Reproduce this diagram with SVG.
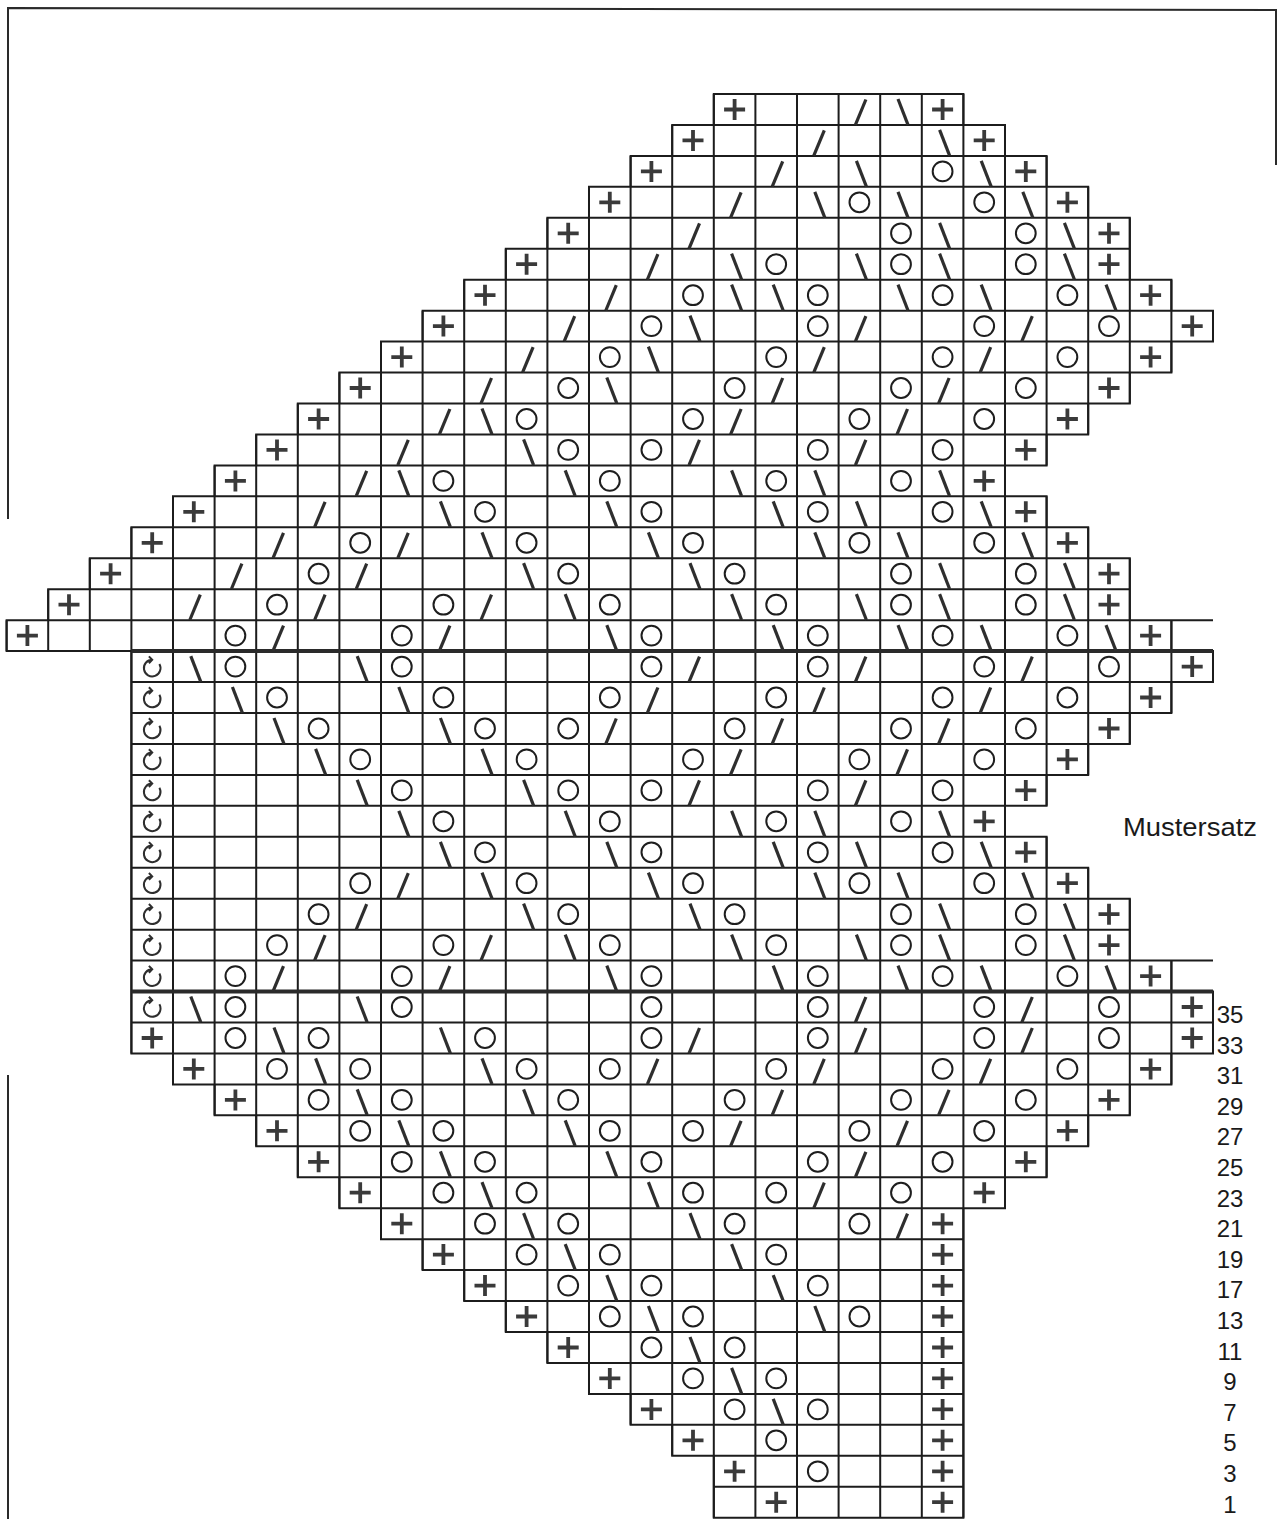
<svg xmlns="http://www.w3.org/2000/svg" width="1283" height="1519" viewBox="0 0 1283 1519">
<style>
.bg{fill:#fff}
.g{fill:none;stroke:#1c1c1c;stroke-width:2;vector-effect:non-scaling-stroke}
.thick{fill:none;stroke:#2a2a2a;stroke-width:4;vector-effect:non-scaling-stroke}
.fr{fill:none;stroke:#2a2a2a;stroke-width:2}
.sym{fill:none;stroke:#2e2e2e;stroke-linecap:butt}
.lbl{font-family:'Liberation Sans',Arial,sans-serif;font-size:24px;fill:#1a1a1a}
</style>
<defs>
<path id="p" class="sym" d="M-10.5 0H10.5M0-10.5V10.5" stroke-width="3.8" style="stroke:#3a3a3a"/>
<circle id="o" r="9.9" fill="none" stroke="#1e1e1e" stroke-width="2"/>
<path id="f" class="sym" d="M-4 15.3L6.5-10" stroke-width="3.2"/>
<path id="b" class="sym" d="M-3-10.5L7 15.3" stroke-width="3.2"/>
<path id="t" class="sym" d="M7.19-2.65A8.3 8.3 0 1 1 0-6.8M-3.3-10.2L0-6.8L-3.3-3.4" stroke-width="2" stroke-linejoin="miter"/>
</defs>
<rect class="bg" x="0" y="0" width="1283" height="1519"/>
<g id="frame">
<path class="fr" d="M8 519V8L1276 10V165M8 1075V1519"/>
</g>
<g id="grid" transform="matrix(41.6,0,0,30.95,6.6,94)">
<path class="g" d="M17 0h6v1h-6zM16 1h8v1h-8zM15 2h10v1h-10zM14 3h12v1h-12zM13 4h14v1h-14zM12 5h15v1h-15zM11 6h17v1h-17zM10 7h19v1h-19zM9 8h19v1h-19zM8 9h19v1h-19zM7 10h19v1h-19zM6 11h19v1h-19zM5 12h19v1h-19zM4 13h21v1h-21zM3 14h23v1h-23zM2 15h25v1h-25zM1 16h26v1h-26zM0 17h28v1h-28zM3 18h26v1h-26zM3 19h25v1h-25zM3 20h24v1h-24zM3 21h23v1h-23zM3 22h22v1h-22zM3 23h21v1h-21zM3 24h22v1h-22zM3 25h23v1h-23zM3 26h24v1h-24zM3 27h24v1h-24zM3 28h25v1h-25zM3 29h26v1h-26zM3 30h26v1h-26zM4 31h24v1h-24zM5 32h22v1h-22zM6 33h20v1h-20zM7 34h18v1h-18zM8 35h16v1h-16zM9 36h14v1h-14zM10 37h13v1h-13zM11 38h12v1h-12zM12 39h11v1h-11zM13 40h10v1h-10zM14 41h9v1h-9zM15 42h8v1h-8zM16 43h7v1h-7zM17 44h6v1h-6zM17 45h6v1h-6zM28 17h1M28 28h1"/>
<path class="g" d="M0 17V18M1 16V18M2 15V18M3 14V31M4 13V32M5 12V33M6 11V34M7 10V35M8 9V36M9 8V37M10 7V38M11 6V39M12 5V40M13 4V41M14 3V42M15 2V43M16 1V44M17 0V46M18 0V46M19 0V46M20 0V46M21 0V46M22 0V46M23 0V46M24 1V36M25 2V12M25 13V23M25 24V35M26 3V11M26 14V22M26 25V34M27 4V10M27 15V21M27 26V33M28 6V9M28 17V20M28 28V32M29 7V8M29 18V19M29 29V31"/>
<path class="thick" d="M3 18H29M3 29H29"/>
</g>
<g id="symbols">
<g transform="translate(0,109.5)"><use href="#p" x="734.6"/><use href="#f" x="859.4"/><use href="#b" x="901"/><use href="#p" x="942.6"/></g>
<g transform="translate(0,140.4)"><use href="#p" x="693"/><use href="#f" x="817.8"/><use href="#b" x="942.6"/><use href="#p" x="984.2"/></g>
<g transform="translate(0,171.4)"><use href="#p" x="651.4"/><use href="#f" x="776.2"/><use href="#b" x="859.4"/><use href="#o" x="942.6"/><use href="#b" x="984.2"/><use href="#p" x="1025.8"/></g>
<g transform="translate(0,202.3)"><use href="#p" x="609.8"/><use href="#f" x="734.6"/><use href="#b" x="817.8"/><use href="#o" x="859.4"/><use href="#b" x="901"/><use href="#o" x="984.2"/><use href="#b" x="1025.8"/><use href="#p" x="1067.4"/></g>
<g transform="translate(0,233.3)"><use href="#p" x="568.2"/><use href="#f" x="693"/><use href="#o" x="901"/><use href="#b" x="942.6"/><use href="#o" x="1025.8"/><use href="#b" x="1067.4"/><use href="#p" x="1109"/></g>
<g transform="translate(0,264.2)"><use href="#p" x="526.6"/><use href="#f" x="651.4"/><use href="#b" x="734.6"/><use href="#o" x="776.2"/><use href="#b" x="859.4"/><use href="#o" x="901"/><use href="#b" x="942.6"/><use href="#o" x="1025.8"/><use href="#b" x="1067.4"/><use href="#p" x="1109"/></g>
<g transform="translate(0,295.2)"><use href="#p" x="485"/><use href="#f" x="609.8"/><use href="#o" x="693"/><use href="#b" x="734.6"/><use href="#b" x="776.2"/><use href="#o" x="817.8"/><use href="#b" x="901"/><use href="#o" x="942.6"/><use href="#b" x="984.2"/><use href="#o" x="1067.4"/><use href="#b" x="1109"/><use href="#p" x="1150.6"/></g>
<g transform="translate(0,326.1)"><use href="#p" x="443.4"/><use href="#f" x="568.2"/><use href="#o" x="651.4"/><use href="#b" x="693"/><use href="#o" x="817.8"/><use href="#f" x="859.4"/><use href="#o" x="984.2"/><use href="#f" x="1025.8"/><use href="#o" x="1109"/><use href="#p" x="1192.2"/></g>
<g transform="translate(0,357.1)"><use href="#p" x="401.8"/><use href="#f" x="526.6"/><use href="#o" x="609.8"/><use href="#b" x="651.4"/><use href="#o" x="776.2"/><use href="#f" x="817.8"/><use href="#o" x="942.6"/><use href="#f" x="984.2"/><use href="#o" x="1067.4"/><use href="#p" x="1150.6"/></g>
<g transform="translate(0,388)"><use href="#p" x="360.2"/><use href="#f" x="485"/><use href="#o" x="568.2"/><use href="#b" x="609.8"/><use href="#o" x="734.6"/><use href="#f" x="776.2"/><use href="#o" x="901"/><use href="#f" x="942.6"/><use href="#o" x="1025.8"/><use href="#p" x="1109"/></g>
<g transform="translate(0,419)"><use href="#p" x="318.6"/><use href="#f" x="443.4"/><use href="#b" x="485"/><use href="#o" x="526.6"/><use href="#o" x="693"/><use href="#f" x="734.6"/><use href="#o" x="859.4"/><use href="#f" x="901"/><use href="#o" x="984.2"/><use href="#p" x="1067.4"/></g>
<g transform="translate(0,449.9)"><use href="#p" x="277"/><use href="#f" x="401.8"/><use href="#b" x="526.6"/><use href="#o" x="568.2"/><use href="#o" x="651.4"/><use href="#f" x="693"/><use href="#o" x="817.8"/><use href="#f" x="859.4"/><use href="#o" x="942.6"/><use href="#p" x="1025.8"/></g>
<g transform="translate(0,480.9)"><use href="#p" x="235.4"/><use href="#f" x="360.2"/><use href="#b" x="401.8"/><use href="#o" x="443.4"/><use href="#b" x="568.2"/><use href="#o" x="609.8"/><use href="#b" x="734.6"/><use href="#o" x="776.2"/><use href="#b" x="817.8"/><use href="#o" x="901"/><use href="#b" x="942.6"/><use href="#p" x="984.2"/></g>
<g transform="translate(0,511.8)"><use href="#p" x="193.8"/><use href="#f" x="318.6"/><use href="#b" x="443.4"/><use href="#o" x="485"/><use href="#b" x="609.8"/><use href="#o" x="651.4"/><use href="#b" x="776.2"/><use href="#o" x="817.8"/><use href="#b" x="859.4"/><use href="#o" x="942.6"/><use href="#b" x="984.2"/><use href="#p" x="1025.8"/></g>
<g transform="translate(0,542.8)"><use href="#p" x="152.2"/><use href="#f" x="277"/><use href="#o" x="360.2"/><use href="#f" x="401.8"/><use href="#b" x="485"/><use href="#o" x="526.6"/><use href="#b" x="651.4"/><use href="#o" x="693"/><use href="#b" x="817.8"/><use href="#o" x="859.4"/><use href="#b" x="901"/><use href="#o" x="984.2"/><use href="#b" x="1025.8"/><use href="#p" x="1067.4"/></g>
<g transform="translate(0,573.7)"><use href="#p" x="110.6"/><use href="#f" x="235.4"/><use href="#o" x="318.6"/><use href="#f" x="360.2"/><use href="#b" x="526.6"/><use href="#o" x="568.2"/><use href="#b" x="693"/><use href="#o" x="734.6"/><use href="#o" x="901"/><use href="#b" x="942.6"/><use href="#o" x="1025.8"/><use href="#b" x="1067.4"/><use href="#p" x="1109"/></g>
<g transform="translate(0,604.7)"><use href="#p" x="69"/><use href="#f" x="193.8"/><use href="#o" x="277"/><use href="#f" x="318.6"/><use href="#o" x="443.4"/><use href="#f" x="485"/><use href="#b" x="568.2"/><use href="#o" x="609.8"/><use href="#b" x="734.6"/><use href="#o" x="776.2"/><use href="#b" x="859.4"/><use href="#o" x="901"/><use href="#b" x="942.6"/><use href="#o" x="1025.8"/><use href="#b" x="1067.4"/><use href="#p" x="1109"/></g>
<g transform="translate(0,635.6)"><use href="#p" x="27.4"/><use href="#o" x="235.4"/><use href="#f" x="277"/><use href="#o" x="401.8"/><use href="#f" x="443.4"/><use href="#b" x="609.8"/><use href="#o" x="651.4"/><use href="#b" x="776.2"/><use href="#o" x="817.8"/><use href="#b" x="901"/><use href="#o" x="942.6"/><use href="#b" x="984.2"/><use href="#o" x="1067.4"/><use href="#b" x="1109"/><use href="#p" x="1150.6"/></g>
<g transform="translate(0,666.6)"><use href="#t" x="152.2"/><use href="#b" x="193.8"/><use href="#o" x="235.4"/><use href="#b" x="360.2"/><use href="#o" x="401.8"/><use href="#o" x="651.4"/><use href="#f" x="693"/><use href="#o" x="817.8"/><use href="#f" x="859.4"/><use href="#o" x="984.2"/><use href="#f" x="1025.8"/><use href="#o" x="1109"/><use href="#p" x="1192.2"/></g>
<g transform="translate(0,697.5)"><use href="#t" x="152.2"/><use href="#b" x="235.4"/><use href="#o" x="277"/><use href="#b" x="401.8"/><use href="#o" x="443.4"/><use href="#o" x="609.8"/><use href="#f" x="651.4"/><use href="#o" x="776.2"/><use href="#f" x="817.8"/><use href="#o" x="942.6"/><use href="#f" x="984.2"/><use href="#o" x="1067.4"/><use href="#p" x="1150.6"/></g>
<g transform="translate(0,728.5)"><use href="#t" x="152.2"/><use href="#b" x="277"/><use href="#o" x="318.6"/><use href="#b" x="443.4"/><use href="#o" x="485"/><use href="#o" x="568.2"/><use href="#f" x="609.8"/><use href="#o" x="734.6"/><use href="#f" x="776.2"/><use href="#o" x="901"/><use href="#f" x="942.6"/><use href="#o" x="1025.8"/><use href="#p" x="1109"/></g>
<g transform="translate(0,759.4)"><use href="#t" x="152.2"/><use href="#b" x="318.6"/><use href="#o" x="360.2"/><use href="#b" x="485"/><use href="#o" x="526.6"/><use href="#o" x="693"/><use href="#f" x="734.6"/><use href="#o" x="859.4"/><use href="#f" x="901"/><use href="#o" x="984.2"/><use href="#p" x="1067.4"/></g>
<g transform="translate(0,790.4)"><use href="#t" x="152.2"/><use href="#b" x="360.2"/><use href="#o" x="401.8"/><use href="#b" x="526.6"/><use href="#o" x="568.2"/><use href="#o" x="651.4"/><use href="#f" x="693"/><use href="#o" x="817.8"/><use href="#f" x="859.4"/><use href="#o" x="942.6"/><use href="#p" x="1025.8"/></g>
<g transform="translate(0,821.3)"><use href="#t" x="152.2"/><use href="#b" x="401.8"/><use href="#o" x="443.4"/><use href="#b" x="568.2"/><use href="#o" x="609.8"/><use href="#b" x="734.6"/><use href="#o" x="776.2"/><use href="#b" x="817.8"/><use href="#o" x="901"/><use href="#b" x="942.6"/><use href="#p" x="984.2"/></g>
<g transform="translate(0,852.3)"><use href="#t" x="152.2"/><use href="#b" x="443.4"/><use href="#o" x="485"/><use href="#b" x="609.8"/><use href="#o" x="651.4"/><use href="#b" x="776.2"/><use href="#o" x="817.8"/><use href="#b" x="859.4"/><use href="#o" x="942.6"/><use href="#b" x="984.2"/><use href="#p" x="1025.8"/></g>
<g transform="translate(0,883.2)"><use href="#t" x="152.2"/><use href="#o" x="360.2"/><use href="#f" x="401.8"/><use href="#b" x="485"/><use href="#o" x="526.6"/><use href="#b" x="651.4"/><use href="#o" x="693"/><use href="#b" x="817.8"/><use href="#o" x="859.4"/><use href="#b" x="901"/><use href="#o" x="984.2"/><use href="#b" x="1025.8"/><use href="#p" x="1067.4"/></g>
<g transform="translate(0,914.2)"><use href="#t" x="152.2"/><use href="#o" x="318.6"/><use href="#f" x="360.2"/><use href="#b" x="526.6"/><use href="#o" x="568.2"/><use href="#b" x="693"/><use href="#o" x="734.6"/><use href="#o" x="901"/><use href="#b" x="942.6"/><use href="#o" x="1025.8"/><use href="#b" x="1067.4"/><use href="#p" x="1109"/></g>
<g transform="translate(0,945.1)"><use href="#t" x="152.2"/><use href="#o" x="277"/><use href="#f" x="318.6"/><use href="#o" x="443.4"/><use href="#f" x="485"/><use href="#b" x="568.2"/><use href="#o" x="609.8"/><use href="#b" x="734.6"/><use href="#o" x="776.2"/><use href="#b" x="859.4"/><use href="#o" x="901"/><use href="#b" x="942.6"/><use href="#o" x="1025.8"/><use href="#b" x="1067.4"/><use href="#p" x="1109"/></g>
<g transform="translate(0,976.1)"><use href="#t" x="152.2"/><use href="#o" x="235.4"/><use href="#f" x="277"/><use href="#o" x="401.8"/><use href="#f" x="443.4"/><use href="#b" x="609.8"/><use href="#o" x="651.4"/><use href="#b" x="776.2"/><use href="#o" x="817.8"/><use href="#b" x="901"/><use href="#o" x="942.6"/><use href="#b" x="984.2"/><use href="#o" x="1067.4"/><use href="#b" x="1109"/><use href="#p" x="1150.6"/></g>
<g transform="translate(0,1007)"><use href="#t" x="152.2"/><use href="#b" x="193.8"/><use href="#o" x="235.4"/><use href="#b" x="360.2"/><use href="#o" x="401.8"/><use href="#o" x="651.4"/><use href="#o" x="817.8"/><use href="#f" x="859.4"/><use href="#o" x="984.2"/><use href="#f" x="1025.8"/><use href="#o" x="1109"/><use href="#p" x="1192.2"/></g>
<g transform="translate(0,1038)"><use href="#p" x="152.2"/><use href="#o" x="235.4"/><use href="#b" x="277"/><use href="#o" x="318.6"/><use href="#b" x="443.4"/><use href="#o" x="485"/><use href="#o" x="651.4"/><use href="#f" x="693"/><use href="#o" x="817.8"/><use href="#f" x="859.4"/><use href="#o" x="984.2"/><use href="#f" x="1025.8"/><use href="#o" x="1109"/><use href="#p" x="1192.2"/></g>
<g transform="translate(0,1068.9)"><use href="#p" x="193.8"/><use href="#o" x="277"/><use href="#b" x="318.6"/><use href="#o" x="360.2"/><use href="#b" x="485"/><use href="#o" x="526.6"/><use href="#o" x="609.8"/><use href="#f" x="651.4"/><use href="#o" x="776.2"/><use href="#f" x="817.8"/><use href="#o" x="942.6"/><use href="#f" x="984.2"/><use href="#o" x="1067.4"/><use href="#p" x="1150.6"/></g>
<g transform="translate(0,1099.9)"><use href="#p" x="235.4"/><use href="#o" x="318.6"/><use href="#b" x="360.2"/><use href="#o" x="401.8"/><use href="#b" x="526.6"/><use href="#o" x="568.2"/><use href="#o" x="734.6"/><use href="#f" x="776.2"/><use href="#o" x="901"/><use href="#f" x="942.6"/><use href="#o" x="1025.8"/><use href="#p" x="1109"/></g>
<g transform="translate(0,1130.8)"><use href="#p" x="277"/><use href="#o" x="360.2"/><use href="#b" x="401.8"/><use href="#o" x="443.4"/><use href="#b" x="568.2"/><use href="#o" x="609.8"/><use href="#o" x="693"/><use href="#f" x="734.6"/><use href="#o" x="859.4"/><use href="#f" x="901"/><use href="#o" x="984.2"/><use href="#p" x="1067.4"/></g>
<g transform="translate(0,1161.8)"><use href="#p" x="318.6"/><use href="#o" x="401.8"/><use href="#b" x="443.4"/><use href="#o" x="485"/><use href="#b" x="609.8"/><use href="#o" x="651.4"/><use href="#o" x="817.8"/><use href="#f" x="859.4"/><use href="#o" x="942.6"/><use href="#p" x="1025.8"/></g>
<g transform="translate(0,1192.7)"><use href="#p" x="360.2"/><use href="#o" x="443.4"/><use href="#b" x="485"/><use href="#o" x="526.6"/><use href="#b" x="651.4"/><use href="#o" x="693"/><use href="#o" x="776.2"/><use href="#f" x="817.8"/><use href="#o" x="901"/><use href="#p" x="984.2"/></g>
<g transform="translate(0,1223.7)"><use href="#p" x="401.8"/><use href="#o" x="485"/><use href="#b" x="526.6"/><use href="#o" x="568.2"/><use href="#b" x="693"/><use href="#o" x="734.6"/><use href="#o" x="859.4"/><use href="#f" x="901"/><use href="#p" x="942.6"/></g>
<g transform="translate(0,1254.6)"><use href="#p" x="443.4"/><use href="#o" x="526.6"/><use href="#b" x="568.2"/><use href="#o" x="609.8"/><use href="#b" x="734.6"/><use href="#o" x="776.2"/><use href="#p" x="942.6"/></g>
<g transform="translate(0,1285.6)"><use href="#p" x="485"/><use href="#o" x="568.2"/><use href="#b" x="609.8"/><use href="#o" x="651.4"/><use href="#b" x="776.2"/><use href="#o" x="817.8"/><use href="#p" x="942.6"/></g>
<g transform="translate(0,1316.5)"><use href="#p" x="526.6"/><use href="#o" x="609.8"/><use href="#b" x="651.4"/><use href="#o" x="693"/><use href="#b" x="817.8"/><use href="#o" x="859.4"/><use href="#p" x="942.6"/></g>
<g transform="translate(0,1347.5)"><use href="#p" x="568.2"/><use href="#o" x="651.4"/><use href="#b" x="693"/><use href="#o" x="734.6"/><use href="#p" x="942.6"/></g>
<g transform="translate(0,1378.4)"><use href="#p" x="609.8"/><use href="#o" x="693"/><use href="#b" x="734.6"/><use href="#o" x="776.2"/><use href="#p" x="942.6"/></g>
<g transform="translate(0,1409.4)"><use href="#p" x="651.4"/><use href="#o" x="734.6"/><use href="#b" x="776.2"/><use href="#o" x="817.8"/><use href="#p" x="942.6"/></g>
<g transform="translate(0,1440.3)"><use href="#p" x="693"/><use href="#o" x="776.2"/><use href="#p" x="942.6"/></g>
<g transform="translate(0,1471.3)"><use href="#p" x="734.6"/><use href="#o" x="817.8"/><use href="#p" x="942.6"/></g>
<g transform="translate(0,1502.2)"><use href="#p" x="776.2"/><use href="#p" x="942.6"/></g>
</g>
<g id="labels" class="lbl">
<text x="1123" y="836" font-size="25" textLength="134" lengthAdjust="spacingAndGlyphs">Mustersatz</text>
<g text-anchor="middle">
<text x="1230" y="1023">35</text>
<text x="1230" y="1053.6">33</text>
<text x="1230" y="1084.2">31</text>
<text x="1230" y="1114.8">29</text>
<text x="1230" y="1145.4">27</text>
<text x="1230" y="1176">25</text>
<text x="1230" y="1206.6">23</text>
<text x="1230" y="1237.2">21</text>
<text x="1230" y="1267.8">19</text>
<text x="1230" y="1298.4">17</text>
<text x="1230" y="1329">13</text>
<text x="1230" y="1359.6">11</text>
<text x="1230" y="1390.2">9</text>
<text x="1230" y="1420.8">7</text>
<text x="1230" y="1451.4">5</text>
<text x="1230" y="1482">3</text>
<text x="1230" y="1512.6">1</text>
</g>
</g>
</svg>
